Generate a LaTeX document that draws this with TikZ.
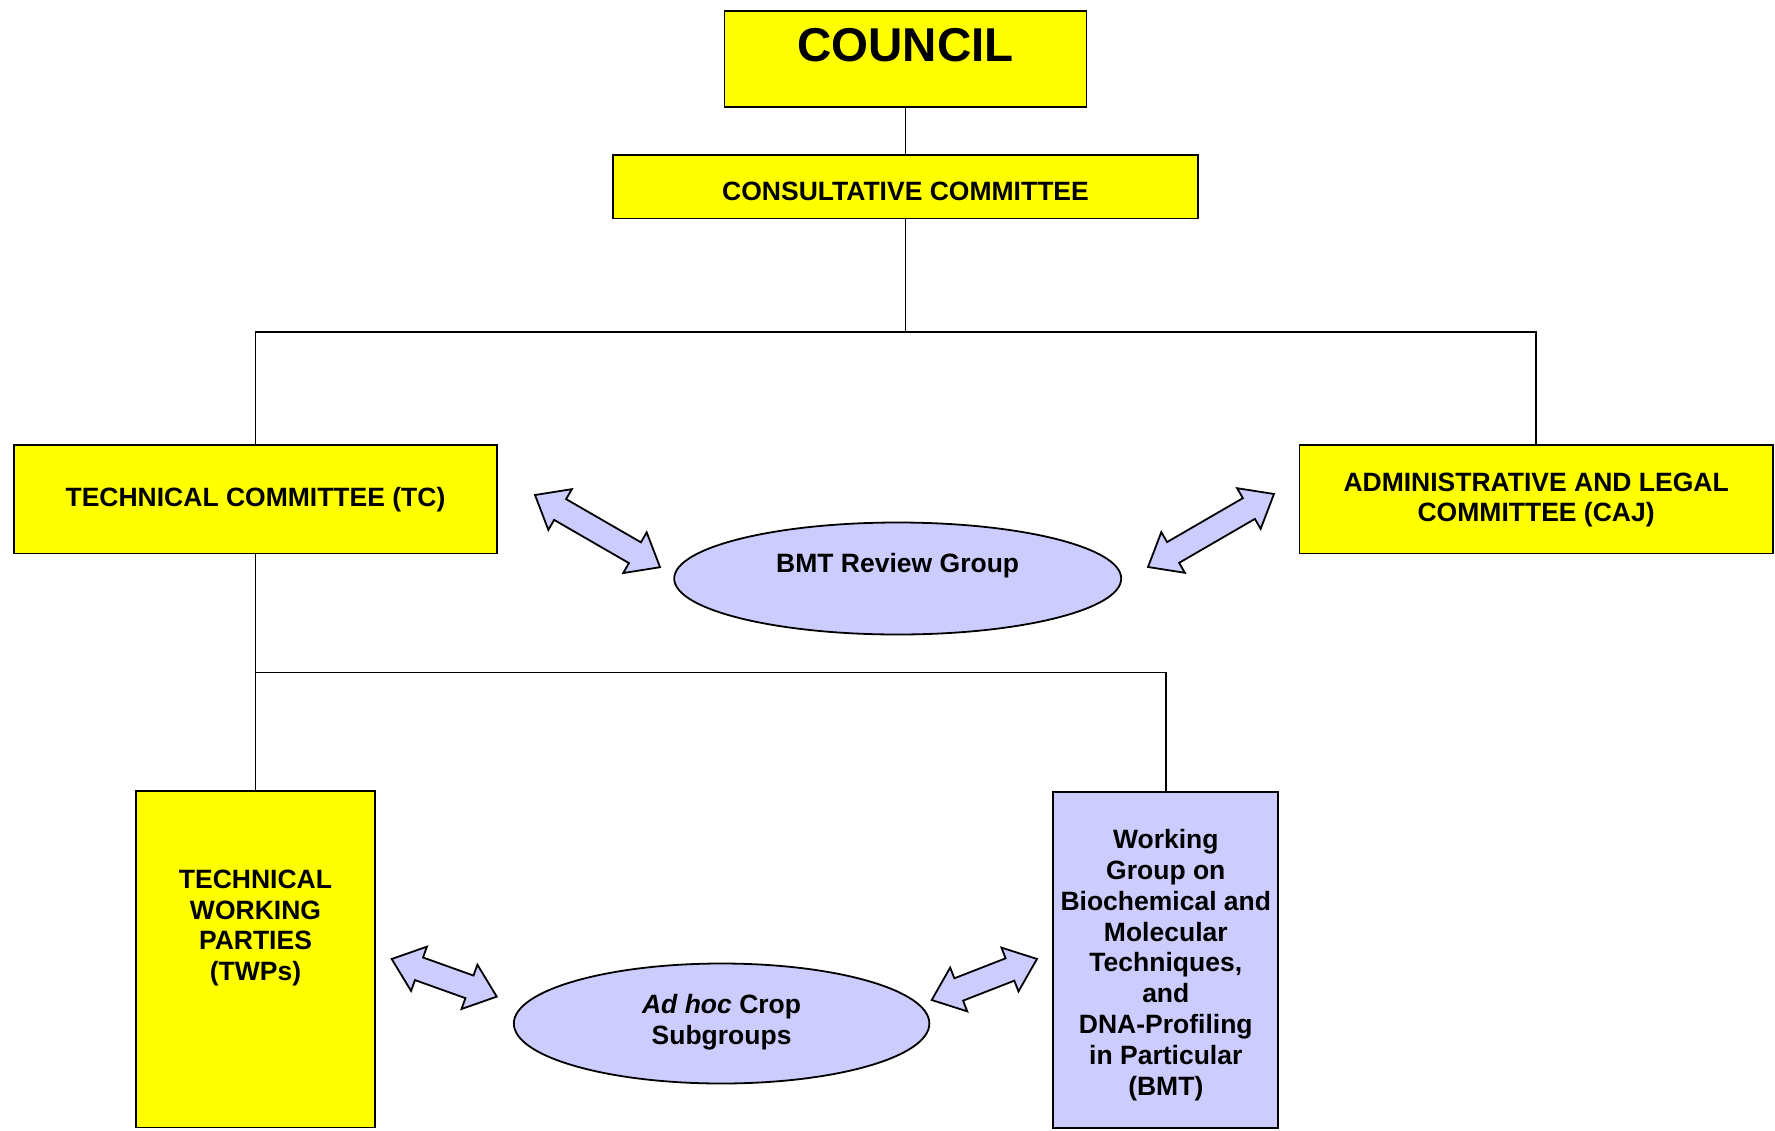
\documentclass[tikz,border=0pt]{standalone}
\usepackage{fontspec}
\setmainfont{Liberation Sans}
\usetikzlibrary{shapes.geometric,calc}
\definecolor{boxyellow}{RGB}{255,255,0}
\definecolor{lav}{RGB}{204,204,255}
\tikzset{
  ybox/.style={draw=black, line width=1.8pt, fill=boxyellow, rectangle, inner sep=0pt},
  lbox/.style={draw=black, line width=1.8pt, fill=lav, rectangle, inner sep=0pt},
  lell/.style={draw=black, line width=1.8pt, fill=lav, ellipse, inner sep=0pt},
  txt/.style={font=\bfseries\fontsize{26.5}{30.8}\selectfont, align=center, text=black, inner sep=0pt},
  conn/.style={draw=black, line width=1.8pt},
  arrowbody/.style={draw=black, line width=1.8pt, fill=lav, line join=miter}
}
\newcommand\dblarrow[3]{% #1 start coordinate, #2 angle, #3 length
  \begin{scope}[shift={(#1)}, rotate=#2]
    \draw[arrowbody] (0,0) -- (29,23.5) -- (29,12) -- ({#3-29},12) -- ({#3-29},23.5)
      -- (#3,0) -- ({#3-29},-23.5) -- ({#3-29},-12) -- (29,-12) -- (29,-23.5) -- cycle;
  \end{scope}}
\begin{document}
\begin{tikzpicture}[x=1pt, y=-1pt]
\useasboundingbox (0,0) rectangle (1775,1130);
% boxes
\node[ybox, minimum width=362pt, minimum height=96pt] (council) at (905.5,59.2) {};
\node[txt, font=\bfseries\fontsize{47.5}{52}\selectfont, anchor=base] (counciltext) at (905.5,61) {COUNCIL};
\node[ybox, minimum width=585.5pt, minimum height=63.5pt] (consult) at (905.5,186.8) {};
\node[txt] (consulttext) at (905.5,191.5) {CONSULTATIVE COMMITTEE};
\node[ybox, minimum width=483.4pt, minimum height=108.5pt] (tc) at (255.5,499.2) {};
\node[txt] (tctext) at (255.5,499.5) {TECHNICAL COMMITTEE (TC)};
\node[ybox, minimum width=473.2pt, minimum height=108.5pt] (caj) at (1536.1,499.2) {};
\node[txt] (cajtext) at (1536.1,500) {ADMINISTRATIVE AND LEGAL\\COMMITTEE (CAJ)};
\node[lell, minimum width=447pt, minimum height=112pt] (rg) at (897.7,578.5) {};
\node[txt] (rgtext) at (897.7,566) {BMT Review Group};
\node[ybox, minimum width=239pt, minimum height=336.5pt] (twp) at (255.5,959.2) {};
\node[txt] (twptext) at (255.5,928) {TECHNICAL\\WORKING\\PARTIES\\(TWPs)};
\node[lbox, minimum width=225pt, minimum height=336.6pt] (bmt) at (1165.8,960) {};
\node[txt] (bmttext) at (1165.8,965) {Working\\Group on\\Biochemical and\\Molecular\\Techniques,\\and\\DNA-Profiling\\in Particular\\(BMT)};
\node[lell, minimum width=415.5pt, minimum height=120pt] (adhoc) at (721.6,1023.5) {};
\node[txt] (adhoctext) at (721.6,1022.5) {\textit{Ad hoc} Crop\\Subgroups};
% connectors
\coordinate (bus1) at (905.5,331.7);
\coordinate (bus2) at (255.5,672.4);
\draw[conn] (council.south) -- (consult.north);
\draw[conn] (consult.south) -- (bus1);
\draw[conn] (tc.north) |- (bus1);
\draw[conn] (caj.north) |- (bus1);
\draw[conn] (tc.south) -- (twp.north);
\draw[conn] (bmt.north) |- (bus2);
% double arrows
\coordinate (arA) at (535,495);
\coordinate (arB) at (1148,567);
\coordinate (arC) at (391.7,959);
\coordinate (arD) at (931.7,1000);
\dblarrow{arA}{-30}{144.4}
\dblarrow{arB}{30.1}{145.6}
\dblarrow{arC}{-19.7}{111.6}
\dblarrow{arD}{21.3}{113}
\end{tikzpicture}
\end{document}
